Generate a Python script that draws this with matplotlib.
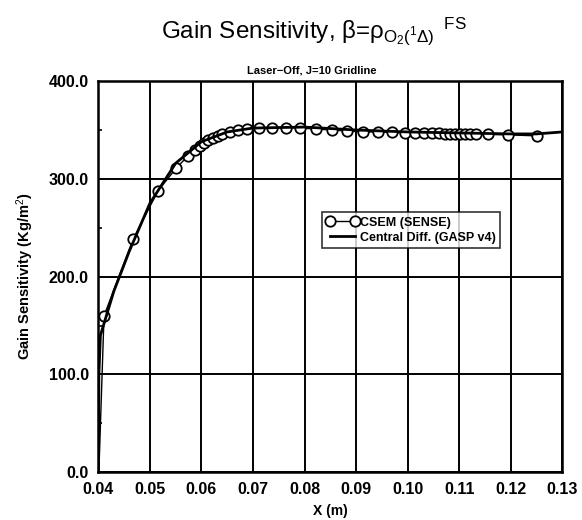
import matplotlib
matplotlib.use("Agg")
import matplotlib.pyplot as plt
from matplotlib.ticker import MultipleLocator

plt.rcParams['font.family'] = ['Liberation Sans', 'DejaVu Sans']
plt.rcParams['mathtext.fontset'] = 'custom'
plt.rcParams['mathtext.rm'] = 'Liberation Sans'
plt.rcParams['mathtext.it'] = 'Liberation Sans'

# CSEM (SENSE) -- first point is the wall start, no marker drawn there
csem_x = [0.0401, 0.0411, 0.0468, 0.0516, 0.0551, 0.0573, 0.0587, 0.0597, 0.0605,
          0.0613, 0.0622, 0.0632, 0.0640, 0.0655, 0.0671, 0.0688, 0.0712, 0.0736,
          0.0764, 0.0791, 0.0822, 0.0853, 0.0883, 0.0914, 0.0943, 0.0970, 0.0995,
          0.1015, 0.1032, 0.1048, 0.1061, 0.1073, 0.1083, 0.1092, 0.1102, 0.1112,
          0.1121, 0.1133, 0.1156, 0.1195, 0.1251]
csem_y = [0.0, 160.0, 239.0, 288.0, 311.0, 323.0, 330.0, 334.0, 337.0,
          340.0, 342.0, 344.0, 346.0, 348.0, 350.0, 351.0, 352.0, 352.5,
          352.5, 352.0, 351.0, 350.0, 349.0, 348.0, 348.0, 347.5, 347.0,
          347.0, 346.8, 346.6, 346.5, 346.4, 346.3, 346.2, 346.1, 346.0,
          346.0, 346.0, 345.5, 345.0, 344.0]

# Central Diff. (GASP v4)
cd_x = [0.0400, 0.0401, 0.0404, 0.0430, 0.0460, 0.0500, 0.0550, 0.0600, 0.0650,
        0.0700, 0.0800, 0.0900, 0.1000, 0.1100, 0.1200, 0.1250, 0.1300]
cd_y = [0.0, 100.0, 140.0, 185.0, 226.0, 275.0, 316.0, 338.0, 348.0,
        352.0, 353.0, 350.0, 348.0, 347.0, 346.0, 346.0, 348.0]

xticks = [0.04, 0.05, 0.06, 0.07, 0.08, 0.09, 0.10, 0.11, 0.12, 0.13]
yticks = [0.0, 100.0, 200.0, 300.0, 400.0]

fig = plt.figure(figsize=(5.82, 5.2), dpi=100)
ax = fig.add_axes([0.169, 0.092, 0.797, 0.752])

ax.plot(csem_x, csem_y, color='black', lw=1.0, marker='o', ms=7.5,
        mfc='white', mec='black', mew=1.3, markevery=list(range(1, len(csem_x))),
        label='CSEM (SENSE)', zorder=3)
ax.plot(cd_x, cd_y, color='black', lw=2.0, label='Central Diff. (GASP v4)', zorder=4)

ax.set_xlim(0.04, 0.13)
ax.set_ylim(0, 400)
ax.set_xticks(xticks)
ax.set_yticks(yticks)
ax.set_xticklabels(['%.2f' % v for v in xticks], fontsize=11.5, fontweight='bold')
ax.set_yticklabels(['%.1f' % v for v in yticks], fontsize=11.5, fontweight='bold')
ax.yaxis.set_minor_locator(MultipleLocator(50))
ax.tick_params(axis='x', which='major', direction='in', length=0, pad=7)
ax.tick_params(axis='y', which='major', direction='in', length=0, pad=7)
ax.tick_params(axis='y', which='minor', direction='in', length=3, width=1.2)
ax.tick_params(axis='x', which='minor', length=0)
ax.grid(True, which='major', color='black', lw=1.4)
for s in ax.spines.values():
    s.set_linewidth(1.8)

ax.set_xlabel('X (m)', fontsize=10, fontweight='bold', labelpad=5)
ax.set_ylabel('Gain Sensitivity (Kg/m$^2$)', fontsize=10.5, fontweight='bold', labelpad=9)

fig.text(0.54, 0.94, r'Gain Sensitivity, $\beta$=$\rho_{O_2(^1\Delta)}{}^{\ \ FS}$',
         ha='center', va='center', fontsize=17.5)
fig.text(0.535, 0.865, 'Laser\u2212Off, J=10 Gridline', ha='center', va='center',
         fontsize=8, fontweight='bold')

leg = ax.legend(loc='lower left', bbox_to_anchor=(0.482, 0.573),
                prop={'weight': 'bold', 'size': 9}, frameon=True, fancybox=False,
                edgecolor='black', handlelength=2.6, handletextpad=0.1, numpoints=2,
                borderpad=0.35, labelspacing=0.25, borderaxespad=0)
leg.get_frame().set_linewidth(1.2)
leg.set_zorder(10)

fig.savefig('out.png', dpi=100, facecolor='white')
